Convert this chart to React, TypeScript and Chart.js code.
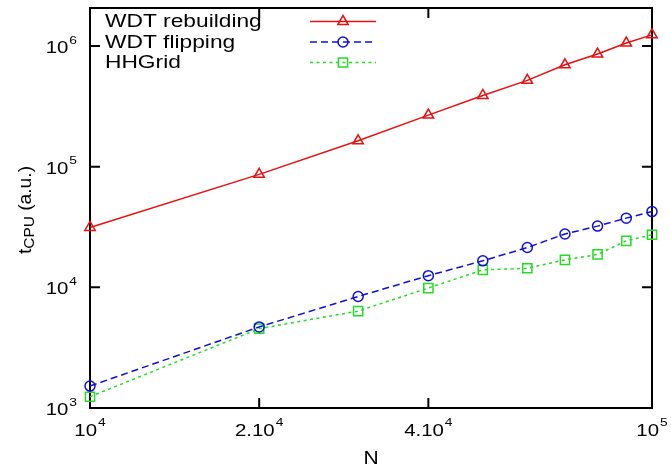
import React, { useEffect, useRef } from "react";
import { Chart, registerables } from "chart.js";

Chart.register(...registerables);

// ---- data ----
const N = [10000, 20000, 30000, 40000, 50000, 60000, 70000, 80000, 90000, 100000];
const wdtRebuilding = [31400, 86500, 164000, 268000, 390000, 520000, 700000, 860000, 1060000, 1240000];
const wdtFlipping = [1520, 4700, 8400, 12500, 16600, 21400, 27700, 32200, 37500, 42500];
const hhGrid = [1240, 4550, 6360, 9870, 13960, 14400, 16900, 18750, 24300, 27300];
const seriesNames = ["WDT rebuilding", "WDT flipping", "HHGrid"];

const xTickValues = [1e4, 2e4, 4e4, 1e5];
const xTickBase = ["10", "2.10", "4.10", "10"];
const xTickExp = ["4", "4", "4", "5"];
const yTickValues = [1e3, 1e4, 1e5, 1e6];
const yTickBase = ["10", "10", "10", "10"];
const yTickExp = ["3", "4", "5", "6"];
const xTitle = "N";
const yTitleMain = "t";
const yTitleSub = "CPU";
const yTitleRest = " (a.u.)";

// ---- styles ----
const FONT = '"Liberation Sans", Arial, Helvetica, sans-serif';
const RED = "rgb(232,16,16)";
const BLUE = "rgb(16,16,210)";
const GREEN = "rgb(34,221,34)";
const STYLES = [
  { color: RED, dash: [] as number[], point: "triangle", radius: 6 },
  { color: BLUE, dash: [7, 4], point: "circle", radius: 5 },
  { color: GREEN, dash: [3, 3.5], point: "rect", radius: 6.5 },
];

function setFont(ctx: CanvasRenderingContext2D, size: number) {
  ctx.font = `${size}px ${FONT}`;
}
function measure(ctx: CanvasRenderingContext2D, s: string, size: number) {
  setFont(ctx, size);
  return ctx.measureText(s).width;
}
function drawText(ctx: CanvasRenderingContext2D, s: string, x: number, y: number, size: number, sx: number) {
  ctx.save();
  setFont(ctx, size);
  ctx.textAlign = "left";
  ctx.textBaseline = "alphabetic";
  ctx.fillStyle = "#000";
  ctx.translate(x, y);
  ctx.scale(sx, 1);
  ctx.fillText(s, 0, 0);
  ctx.restore();
}

function drawMarker(ctx: CanvasRenderingContext2D, kind: string, x: number, y: number, r: number) {
  ctx.beginPath();
  if (kind === "triangle") {
    for (let i = 0; i < 3; i++) {
      const a = -Math.PI / 2 + (i * 2 * Math.PI) / 3;
      const px = x + Math.cos(a) * r;
      const py = y + Math.sin(a) * r;
      if (i === 0) ctx.moveTo(px, py);
      else ctx.lineTo(px, py);
    }
    ctx.closePath();
  } else if (kind === "circle") {
    ctx.arc(x, y, r, 0, Math.PI * 2);
  } else {
    const s = Math.SQRT1_2 * r;
    ctx.rect(x - s, y - s, 2 * s, 2 * s);
  }
  ctx.stroke();
}

const TICK_SIZE = 17;
const SUP_SIZE = 11.5;
const TICK_SX = 1.2;

const framePlugin = {
  id: "gnuplotFrame",
  beforeDatasetsDraw(chart: any) {
    const { ctx, chartArea } = chart;
    const { left, right, top, bottom } = chartArea;
    const xs = chart.scales.x;
    const ys = chart.scales.y;
    ctx.save();
    ctx.strokeStyle = "#000";
    ctx.lineWidth = 2;
    ctx.setLineDash([]);
    ctx.strokeRect(left, top, right - left, bottom - top);
    const L = 10;
    ctx.beginPath();
    xs.ticks.forEach((t: any) => {
      const px = xs.getPixelForValue(t.value);
      ctx.moveTo(px, bottom);
      ctx.lineTo(px, bottom - L);
      ctx.moveTo(px, top);
      ctx.lineTo(px, top + L);
    });
    ys.ticks.forEach((t: any) => {
      const py = ys.getPixelForValue(t.value);
      ctx.moveTo(left, py);
      ctx.lineTo(left + L, py);
      ctx.moveTo(right, py);
      ctx.lineTo(right - L, py);
    });
    ctx.stroke();
    ctx.restore();
  },
  afterDraw(chart: any) {
    const { ctx, chartArea } = chart;
    const { left, right, top, bottom } = chartArea;
    const xs = chart.scales.x;
    const ys = chart.scales.y;
    ctx.save();
    // x tick labels
    xTickValues.forEach((v, i) => {
      const px = xs.getPixelForValue(v);
      const wb = measure(ctx, xTickBase[i], TICK_SIZE) * TICK_SX;
      const we = measure(ctx, xTickExp[i], SUP_SIZE) * TICK_SX;
      const x0 = px - (wb + we + 1) / 2;
      drawText(ctx, xTickBase[i], x0, bottom + 27.5, TICK_SIZE, TICK_SX);
      drawText(ctx, xTickExp[i], x0 + wb + 1, bottom + 17.5, SUP_SIZE, TICK_SX);
    });
    // y tick labels
    yTickValues.forEach((v, i) => {
      const py = ys.getPixelForValue(v);
      const wb = measure(ctx, yTickBase[i], TICK_SIZE) * TICK_SX;
      const we = measure(ctx, yTickExp[i], SUP_SIZE) * TICK_SX;
      const xr = left - 13;
      const x0 = xr - we - 1 - wb;
      drawText(ctx, yTickBase[i], x0, py + 7, TICK_SIZE, TICK_SX);
      drawText(ctx, yTickExp[i], x0 + wb + 1, py - 2.5, SUP_SIZE, TICK_SX);
    });
    // x title
    {
      const w = measure(ctx, xTitle, 17.5) * 1.2;
      drawText(ctx, xTitle, (left + right) / 2 - w / 2, 464, 17.5, 1.2);
    }
    // y title (rotated)
    {
      const sx = 1.1;
      const w1 = measure(ctx, yTitleMain, 17.5) * sx;
      const w2 = measure(ctx, yTitleSub, 14) * sx;
      const w3 = measure(ctx, yTitleRest, 17.5) * sx;
      const total = w1 + w2 + w3;
      ctx.save();
      ctx.translate(31, (top + bottom) / 2 + 2);
      ctx.rotate(-Math.PI / 2);
      let x = -total / 2;
      drawText(ctx, yTitleMain, x, 0, 17.5, sx);
      x += w1;
      drawText(ctx, yTitleSub, x, 3, 14, sx);
      x += w2;
      drawText(ctx, yTitleRest, x, 0, 17.5, sx);
      ctx.restore();
    }
    // legend
    const rows = [27, 47.5, 68];
    seriesNames.forEach((name, i) => {
      const st = STYLES[i];
      drawText(ctx, name, 105, rows[i], 17.5, 1.3);
      const ly = rows[i] - 5.5;
      ctx.save();
      ctx.strokeStyle = st.color;
      ctx.lineWidth = 1.5;
      ctx.setLineDash(st.dash);
      ctx.beginPath();
      ctx.moveTo(310, ly);
      ctx.lineTo(376, ly);
      ctx.stroke();
      ctx.setLineDash([]);
      drawMarker(ctx, st.point, 343, ly, st.radius);
      ctx.restore();
    });
    ctx.restore();
  },
};

export default function App() {
  const ref = useRef<HTMLCanvasElement | null>(null);
  useEffect(() => {
    if (!ref.current) return;
    const seriesValues = [wdtRebuilding, wdtFlipping, hhGrid];
    const chart = new Chart(ref.current, {
      type: "line",
      data: {
        datasets: seriesValues.map((vals, i) => ({
          label: seriesNames[i],
          data: N.map((n, j) => ({ x: n, y: vals[j] })),
          borderColor: STYLES[i].color,
          backgroundColor: "transparent",
          borderWidth: 1.5,
          borderDash: STYLES[i].dash,
          pointStyle: STYLES[i].point as any,
          pointRadius: STYLES[i].radius,
          pointBorderWidth: 1.5,
          pointBorderColor: STYLES[i].color,
          pointBackgroundColor: "transparent",
          fill: false,
          tension: 0,
          clip: false as any,
        })),
      },
      options: {
        animation: false,
        responsive: false,
        devicePixelRatio: 1,
        layout: { padding: { left: 0, right: 19, top: 3, bottom: 0 } },
        plugins: { legend: { display: false }, tooltip: { enabled: false } },
        events: [],
        scales: {
          x: {
            type: "logarithmic",
            min: 1e4,
            max: 1e5,
            grid: { display: false },
            border: { display: false },
            ticks: { display: false },
            afterBuildTicks: (s: any) => {
              s.ticks = xTickValues.map((v) => ({ value: v }));
            },
            afterFit: (s: any) => {
              s.height = 62;
            },
          },
          y: {
            type: "logarithmic",
            min: 1e3,
            max: 2.07e6,
            grid: { display: false },
            border: { display: false },
            ticks: { display: false },
            afterBuildTicks: (s: any) => {
              s.ticks = yTickValues.map((v) => ({ value: v }));
            },
            afterFit: (s: any) => {
              s.width = 90;
            },
          },
        },
      },
      plugins: [framePlugin],
    });
    return () => chart.destroy();
  }, []);
  return (
    <div style={{ position: "absolute", left: 0, top: 0, width: 671, height: 470, background: "#fff" }}>
      <canvas ref={ref} width={671} height={470} style={{ display: "block" }} />
    </div>
  );
}
